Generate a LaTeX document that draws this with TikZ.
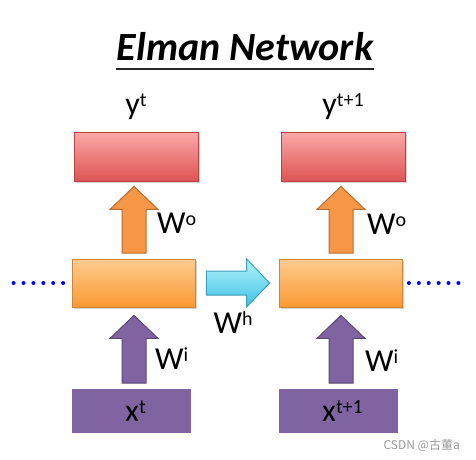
\documentclass[tikz,border=0pt]{standalone}
\usepackage{fontspec}
\setmainfont{Carlito}
\newfontfamily\cjk{Noto Sans CJK SC}
\usetikzlibrary{calc,shadows}

\definecolor{redtop}{HTML}{FBA8A8}
\definecolor{redbot}{HTML}{DE5454}
\definecolor{redline}{HTML}{B84444}
\definecolor{ortop}{HTML}{FFCB90}
\definecolor{orbot}{HTML}{F99A32}
\definecolor{orline}{HTML}{D08436}
\definecolor{orarrow}{HTML}{F79646}
\definecolor{orarrowline}{HTML}{B66D31}
\definecolor{purp}{HTML}{8064A2}
\definecolor{purpline}{HTML}{5C4776}
\definecolor{cytop}{HTML}{B4F2FC}
\definecolor{cybot}{HTML}{3EC2E2}
\definecolor{cyline}{HTML}{3A9EBE}

\newcommand{\tsup}[1]{\raisebox{8pt}{\fontsize{20}{20}\selectfont #1}}

\tikzset{
  outbox/.style={rectangle, minimum width=124pt, minimum height=49pt, inner sep=0pt,
    draw=redline, line width=0.8pt, top color=redtop, bottom color=redbot,
    drop shadow={shadow xshift=1.5pt, shadow yshift=-1.5pt, opacity=0.35}},
  hidbox/.style={rectangle, minimum width=123pt, minimum height=48pt, inner sep=0pt,
    draw=orline, line width=0.8pt, top color=ortop, bottom color=orbot,
    drop shadow={shadow xshift=1.5pt, shadow yshift=-1.5pt, opacity=0.35}},
  inbox/.style={rectangle, minimum width=123pt, minimum height=48pt, inner sep=0pt,
    draw=white, line width=4pt, fill=purp, font=\fontsize{32}{32}\selectfont,
    drop shadow={shadow xshift=1.5pt, shadow yshift=-1.5pt, opacity=0.35}},
  lbl/.style={inner sep=0pt, font=\fontsize{32}{32}\selectfont},
  orup/.style={draw=orarrowline, line width=1pt, fill=orarrow, line join=miter},
  puup/.style={draw=purpline, line width=1pt, fill=purp, line join=miter},
  cyright/.style={draw=cyline, line width=1pt, top color=cytop, bottom color=cybot, line join=miter},
  dotline/.style={blue, line width=4pt, line cap=round, dash pattern=on 0pt off 9.9pt}
}

% up block arrow from bottom point #1 to tip point #2
\newcommand{\blockup}[3]{%
  \draw[#3] ($#1+(-12,0)$) -- ($#1+(12,0)$) -- ($#2+(12,-23)$) -- ($#2+(24,-23)$)
    -- #2 -- ($#2+(-24,-23)$) -- ($#2+(-12,-23)$) -- cycle;}

\begin{document}
\begin{tikzpicture}[x=1pt, y=1pt]
  \useasboundingbox (0,0) rectangle (476,459);

  % title
  \node[inner sep=0pt, anchor=base, font=\fontsize{40}{40}\selectfont\bfseries\itshape] (title) at (245,399) {Elman Network};
  \draw[line width=1.3pt, black!85] ($(title.base west)+(-1,-9)$) -- ($(title.base east)+(1,-9)$);

  % boxes
  \node[outbox] (y1) at (136,302.5) {};
  \node[outbox] (y2) at (343,302.5) {};
  \node[hidbox] (h1) at (133.5,176) {};
  \node[hidbox] (h2) at (340.5,176) {};
  \node[inbox] (x1) at (131.5,48) {\raisebox{-4pt}{\hspace{8pt}x\tsup{t}}};
  \node[inbox] (x2) at (338.5,48) {\raisebox{-4pt}{\hspace{8pt}x\tsup{t+1}}};

  % output labels
  \node[lbl, anchor=base] (ly1) at ($(y1.north)+(0,17)$) {y\tsup{t}};
  \node[lbl, anchor=base] (ly2) at ($(y2.north)+(0,17)$) {y\tsup{t+1}};

  % vertical arrows
  \blockup{(134,206)}{($(y1.south)+(-2,-5)$)}{orup}
  \blockup{(341,206)}{($(y2.south)+(-2,-5)$)}{orup}
  \blockup{(134,76)}{($(h1.south)+(0.5,-8)$)}{puup}
  \blockup{(341,76)}{($(h2.south)+(0.5,-8)$)}{puup}

  % recurrent arrow
  \draw[cyright] ($(h1.east)+(11,-12)$) -- ($(h1.east)+(11,12)$) -- ($(h2.west)+(-32,12)$)
    -- ($(h2.west)+(-32,24)$) -- ($(h2.west)+(-9,0)$) -- ($(h2.west)+(-32,-24)$)
    -- ($(h2.west)+(-32,-12)$) -- cycle;

  % weight labels
  \node[lbl, anchor=base west] (wo1) at ($(h1.north)+(23.5,25)$) {W\tsup{o}};
  \node[lbl, anchor=base west] (wo2) at ($(h2.north)+(26.5,24)$) {W\tsup{o}};
  \node[lbl, anchor=base west] (wi1) at ($(x1.north)+(23.5,16)$) {W\tsup{i}};
  \node[lbl, anchor=base west] (wi2) at ($(x2.north)+(26.5,14)$) {W\tsup{i}};
  \node[lbl, anchor=base west] (wh) at ($(h1.south east)+(18,-26)$) {W\tsup{h}};

  % dots
  \draw[dotline] ($(h1.west)+(-58,0)$) -- ($(h1.west)+(-8.5,0)$);
  \draw[dotline] ($(h2.east)+(6.5,0)$) -- ($(h2.east)+(56,0)$);

  % watermark
  \node[inner sep=0pt, anchor=base east, font=\cjk\fontsize{12}{12}\selectfont, text=black!40] (wm) at (460,10) {CSDN @古董a};
\end{tikzpicture}
\end{document}
